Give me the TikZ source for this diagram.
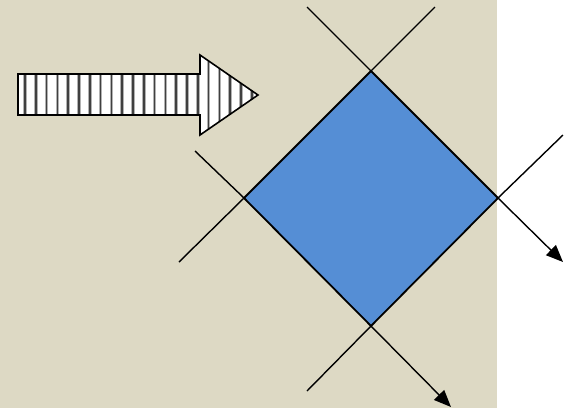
\documentclass[tikz,border=0pt]{standalone}
\usetikzlibrary{arrows.meta}
\definecolor{bgbeige}{HTML}{DDD9C4}
\definecolor{diablue}{HTML}{558ED5}
\tikzset{
  ray/.style={draw=black,line width=1.4pt},
  arrowray/.style={ray,-{Triangle[length=17pt,width=14pt]}},
  stripe/.style={line width=1.6pt,draw=black!75},
  stripehalo/.style={line width=3.6pt,draw=black!30},
}
\begin{document}
\begin{tikzpicture}[x=1pt,y=-1pt]
\useasboundingbox (0,0) rectangle (571,408);
\fill[bgbeige] (0,0) rectangle (497,408);
% striped block arrow
\coordinate (a1) at (18,74);
\path[fill=white] (18,74) -- (200,74) -- (200,55) -- (258,95) -- (200,135) -- (200,115) -- (18,115) -- cycle;
\begin{scope}
\clip (18,74) -- (200,74) -- (200,55) -- (258,95) -- (200,135) -- (200,115) -- (18,115) -- cycle;
\foreach \i in {0,...,21} {
  \draw[stripehalo] ({25+10.8*\i},50) -- ({25+10.8*\i},140);
  \draw[stripe] ({25+10.8*\i},50) -- ({25+10.8*\i},140);
}
\end{scope}
\draw[line width=1.6pt,line join=miter] (18,74) -- (200,74) -- (200,55) -- (258,95) -- (200,135) -- (200,115) -- (18,115) -- cycle;
% diamond vertices
\coordinate (T) at (371,71);
\coordinate (L) at (244,198);
\coordinate (B) at (371,326);
\coordinate (R) at (498,198);
\fill[diablue] (T) -- (R) -- (B) -- (L) -- cycle;
% line endpoints
\coordinate (tl) at (307,7);
\coordinate (tr) at (435,7);
\coordinate (lu) at (195,151);
\coordinate (ld) at (179,262);
\coordinate (ru) at (563,135);
\coordinate (rd) at (563,262);
\coordinate (bl) at (307,391);
\coordinate (bd) at (451,407);
\draw[ray] (tl) -- (T);
\draw[ray] (tr) -- (T);
\draw[ray] (lu) -- (L);
\draw[ray] (ld) -- (L);
\draw[ray] (ru) -- (R);
\draw[ray] (bl) -- (B);
\draw[ray,line width=1.8pt] (T) -- (R) -- (B) -- (L) -- cycle;
\draw[arrowray] (R) -- (rd);
\draw[arrowray] (B) -- (bd);
\end{tikzpicture}
\end{document}
